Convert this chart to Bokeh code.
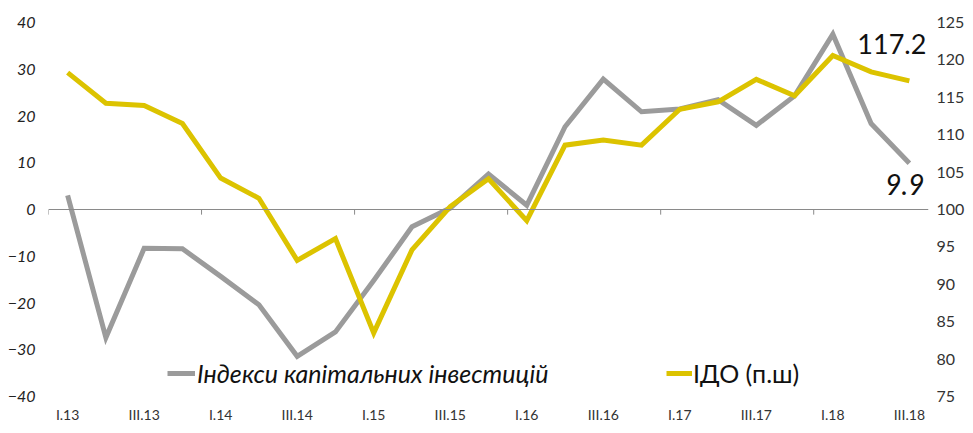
from bokeh.plotting import figure
from bokeh.models import (Range1d, LinearAxis, FixedTicker, Span, Legend, LegendItem, Label)
from bokeh.embed import file_html
from bokeh.resources import INLINE

quarters = ["I.13", "II.13", "III.13", "IV.13", "I.14", "II.14", "III.14", "IV.14",
            "I.15", "II.15", "III.15", "IV.15", "I.16", "II.16", "III.16", "IV.16",
            "I.17", "II.17", "III.17", "IV.17", "I.18", "II.18", "III.18"]
capital_investment = [3.0, -27.4, -8.3, -8.4, -14.3, -20.4, -31.4, -26.2,
                      -15.2, -3.7, 0.3, 7.6, 0.9, 17.7, 27.9, 20.9,
                      21.5, 23.5, 18.0, 24.3, 37.5, 18.4, 9.9]
ido = [118.3, 114.2, 113.9, 111.5, 104.2, 101.5, 93.2, 96.1,
       83.5, 94.6, 100.4, 104.1, 98.5, 108.6, 109.3, 108.6,
       113.4, 114.4, 117.4, 115.2, 120.6, 118.4, 117.2]
left_ticks = [-40, -30, -20, -10, 0, 10, 20, 30, 40]
right_ticks = [75, 80, 85, 90, 95, 100, 105, 110, 115, 120, 125]
label_every = 2
group_every = 4

GRAY = "#9b9b9b"
GOLD = "#dcc300"
FONT = "Lato"

n = len(quarters)
xs = list(range(n))

p = figure(width=967, height=425, output_backend="svg", toolbar_location=None,
           x_range=Range1d(-0.5, n - 0.5), y_range=Range1d(left_ticks[0], left_ticks[-1]),
           min_border_left=48, min_border_right=30, min_border_top=22, min_border_bottom=26)
p.extra_y_ranges = {"right": Range1d(right_ticks[0], right_ticks[-1])}
p.outline_line_color = None
p.xgrid.visible = False
p.ygrid.visible = False
p.background_fill_color = "white"

def clean(ax):
    ax.axis_line_color = None
    ax.major_tick_line_color = None
    ax.minor_tick_line_color = None
    ax.major_tick_out = 0
    ax.major_tick_in = 0
    ax.minor_tick_out = 0
    ax.minor_tick_in = 0

# x axis
xa = p.xaxis[0]
clean(xa)
xa.ticker = FixedTicker(ticks=xs[::label_every])
xa.major_label_overrides = {i: quarters[i] for i in xs[::label_every]}
xa.major_label_standoff = 9
xa.major_label_text_font = FONT
xa.major_label_text_font_size = "14px"
xa.major_label_text_color = "#333333"

# left axis
ya = p.yaxis[0]
clean(ya)
ya.ticker = FixedTicker(ticks=left_ticks)
ya.major_label_standoff = 13
ya.major_label_text_font = FONT
ya.major_label_text_font_style = "italic"
ya.major_label_text_font_size = "16px"
ya.major_label_text_color = "#222222"

# right axis
ra = LinearAxis(y_range_name="right", ticker=FixedTicker(ticks=right_ticks))
clean(ra)
ra.major_label_standoff = 8
ra.major_label_text_font = FONT
ra.major_label_text_font_size = "16px"
ra.major_label_text_color = "#333333"
p.add_layout(ra, "right")

# zero line with group ticks
p.add_layout(Span(location=0, dimension="width", line_color="#8a8a8a", line_width=1))
bounds = [i - 0.5 for i in range(0, n, group_every)]
p.segment(x0=bounds, x1=bounds, y0=[0] * len(bounds), y1=[-1.1] * len(bounds),
          line_color="#8a8a8a", line_width=1)

r1 = p.line(xs, capital_investment, line_color=GRAY, line_width=5, line_join="miter")
r2 = p.line(xs, ido, line_color=GOLD, line_width=5, line_join="miter", y_range_name="right")

# end labels
p.add_layout(Label(x=xs[-1], y=ido[-1], y_range_name="right", text=f"{ido[-1]:.1f}",
                   text_font=FONT, text_font_size="27px", text_align="right",
                   text_baseline="middle", x_offset=17, y_offset=37, text_color="#111111"))
p.add_layout(Label(x=xs[-1], y=capital_investment[-1], text=f"{capital_investment[-1]:.1f}",
                   text_font=FONT, text_font_size="28px", text_font_style="italic",
                   text_align="right", text_baseline="middle", x_offset=15, y_offset=-21,
                   text_color="#111111"))

leg1 = Legend(items=[LegendItem(label="Індекси капітальних інвестицій", renderers=[r1])],
              location=(119, 8), border_line_color=None, background_fill_alpha=0,
              padding=0, margin=0, glyph_width=28, label_standoff=2,
              label_text_font=FONT, label_text_font_style="italic",
              label_text_font_size="25px", label_text_color="#111111")
leg2 = Legend(items=[LegendItem(label="ІДО (п.ш)", renderers=[r2])],
              location=(618, 8), border_line_color=None, background_fill_alpha=0,
              padding=0, margin=0, glyph_width=26, label_standoff=1,
              label_text_font=FONT, label_text_font_style="normal",
              label_text_font_size="25px", label_text_color="#111111")
p.add_layout(leg1, "center")
p.add_layout(leg2, "center")

open("out.html", "w").write(file_html(p, INLINE))
